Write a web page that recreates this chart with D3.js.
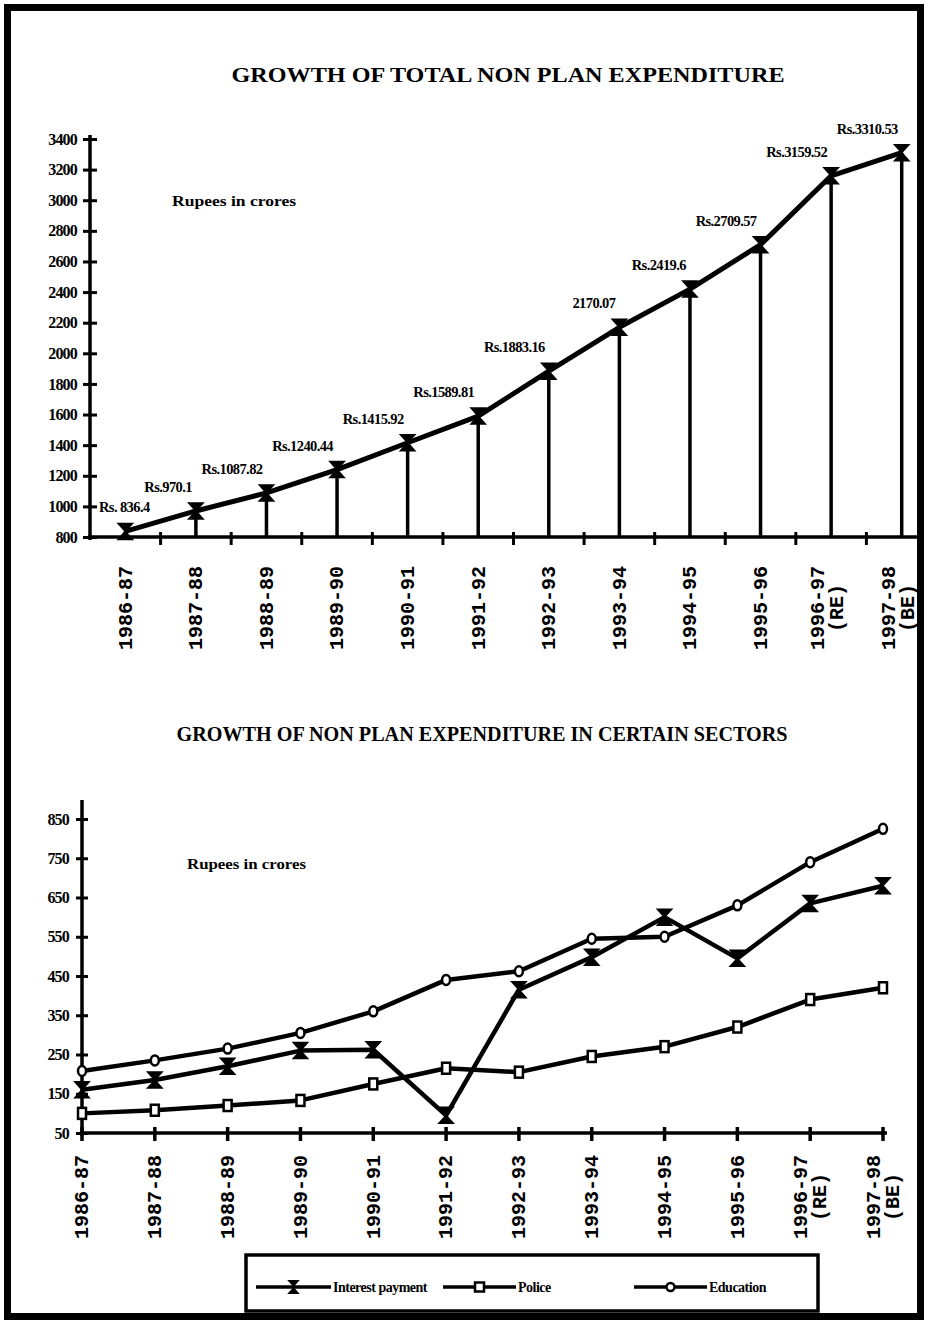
<!DOCTYPE html>
<html>
<head>
<meta charset="utf-8">
<script src="https://cdn.jsdelivr.net/npm/d3@7"></script>
<style>
html,body{margin:0;padding:0;background:#fff;}
svg{display:block;}
.serif{font-family:"Liberation Serif","Times New Roman",serif;font-weight:bold;}
.mono{font-family:"Liberation Mono","Courier New",monospace;font-weight:bold;}
</style>
</head>
<body>
<svg id="chart" width="929" height="1322"></svg>
<script>
// ---------- data ----------
const years = ["1986-87","1987-88","1988-89","1989-90","1990-91","1991-92","1992-93","1993-94","1994-95","1995-96","1996-97","1997-98"];
const yearNotes = ["","","","","","","","","","","(RE)","(BE)"];

const totalValues = [836.4, 970.1, 1087.82, 1240.44, 1415.92, 1589.81, 1883.16, 2170.07, 2419.6, 2709.57, 3159.52, 3310.53];
const totalLabels = ["Rs. 836.4","Rs.970.1","Rs.1087.82","Rs.1240.44","Rs.1415.92","Rs.1589.81","Rs.1883.16","2170.07","Rs.2419.6","Rs.2709.57","Rs.3159.52","Rs.3310.53"];
const topTicks = [800,1000,1200,1400,1600,1800,2000,2200,2400,2600,2800,3000,3200,3400];

const interestPayment = [160, 185, 220, 260, 262, 95, 415, 498, 600, 495, 635, 680];
const police          = [100, 108, 120, 133, 175, 215, 205, 245, 270, 320, 390, 420];
const education       = [208, 235, 265, 305, 360, 440, 462, 545, 550, 630, 740, 825];
const bottomTicks = [50,150,250,350,450,550,650,750,850];

const seriesNames = ["Interest payment","Police","Education"];

// ---------- setup ----------
const svg = d3.select("#chart");
const ink = "#000";

// frame
svg.append("rect").attr("x",7.5).attr("y",7.5).attr("width",913).attr("height",1309)
  .attr("fill","none").attr("stroke",ink).attr("stroke-width",7);

// hourglass marker
function hourglass(s){
  const w=s*0.45,h=s*0.5;
  return `M${-w},${-h}L${w},${-h}L0,0Z M${-w},${h}L${w},${h}L0,0Z`;
}

// ================= TOP CHART =================
const x1 = d3.scaleBand().domain(years).range([90, 937]);
const y1 = d3.scaleLinear().domain([800, 3400]).range([537, 139]);
const cx1 = d => x1(d) + x1.bandwidth()/2;

svg.append("text").attr("class","serif").attr("x",508).attr("y",82)
  .attr("text-anchor","middle").attr("font-size",22)
  .attr("textLength",553).attr("lengthAdjust","spacingAndGlyphs")
  .text("GROWTH  OF  TOTAL NON  PLAN  EXPENDITURE");

svg.append("text").attr("class","serif").attr("x",172).attr("y",206)
  .attr("font-size",14).attr("textLength",124).attr("lengthAdjust","spacingAndGlyphs")
  .text("Rupees in crores");

// y axis
const gy1 = svg.append("g").attr("transform","translate(90,0)")
  .call(d3.axisLeft(y1).tickValues(topTicks).tickSize(7).tickFormat(d3.format("d")));
gy1.select(".domain").remove();
gy1.selectAll(".tick line").attr("x1",-7).attr("x2",7).attr("stroke",ink).attr("stroke-width",3);
gy1.selectAll(".tick text").attr("class","serif").attr("font-size",16).attr("x",-13)
  .attr("fill",ink).attr("letter-spacing",-0.8);
svg.append("line").attr("x1",90).attr("x2",90).attr("y1",135).attr("y2",540)
  .attr("stroke",ink).attr("stroke-width",3.5);

// x axis line + ticks at band boundaries
svg.append("line").attr("x1",88).attr("x2",920).attr("y1",537).attr("y2",537)
  .attr("stroke",ink).attr("stroke-width",3.5);
svg.append("g").selectAll("line").data(years.slice(1))
  .join("line")
  .attr("x1",d=> x1(d))
  .attr("x2",d=> x1(d))
  .attr("y1",532).attr("y2",545).attr("stroke",ink).attr("stroke-width",3);

// spikes
svg.append("g").selectAll("line").data(years).join("line")
  .attr("x1",d=>cx1(d)).attr("x2",d=>cx1(d))
  .attr("y1",(d,i)=>y1(totalValues[i])).attr("y2",537)
  .attr("stroke",ink).attr("stroke-width",3.5);

// line
svg.append("path").datum(totalValues)
  .attr("d", d3.line().x((d,i)=>cx1(years[i])).y(d=>y1(d)))
  .attr("fill","none").attr("stroke",ink).attr("stroke-width",5).attr("stroke-linejoin","round");

// markers
svg.append("g").selectAll("path").data(totalValues).join("path")
  .attr("transform",(d,i)=>`translate(${cx1(years[i])},${y1(d)})`)
  .attr("d",hourglass(16)).attr("fill",ink).attr("stroke",ink).attr("stroke-width",1.5);

// value labels
svg.append("g").selectAll("text").data(totalValues).join("text")
  .attr("class","serif").attr("font-size",14.5).attr("letter-spacing",-0.6)
  .attr("text-anchor",(d,i)=> i===0 ? "start" : "end")
  .attr("x",(d,i)=> i===0 ? 99 : cx1(years[i]) - 4)
  .attr("y",(d,i)=> y1(d) - 19)
  .text((d,i)=>totalLabels[i]);

// x labels
function xLabels(cx, centerY, shift){
  const g = svg.append("g");
  years.forEach((yr,i)=>{
    const two = yearNotes[i] !== "";
    const t = g.append("text").attr("class","mono").attr("font-size",20)
      .attr("text-anchor","middle")
      .attr("transform",`translate(${cx(yr) + (two ? shift : 0)},${centerY}) rotate(-90)`);
    if(!two){
      t.append("tspan").attr("x",0).attr("dy","0.32em").text(yr);
    } else {
      t.append("tspan").attr("x",0).attr("dy","-0.15em").text(yr);
      t.append("tspan").attr("x",0).attr("dy","0.95em").text(yearNotes[i]);
    }
  });
}
xLabels(cx1, 608, -4);

// ================= BOTTOM CHART =================
const x2 = d3.scalePoint().domain(years).range([82, 883]);
const y2 = d3.scaleLinear().domain([50, 850]).range([1133, 819]);

svg.append("text").attr("class","serif").attr("x",482).attr("y",741)
  .attr("text-anchor","middle").attr("font-size",20)
  .attr("textLength",611).attr("lengthAdjust","spacingAndGlyphs")
  .text("GROWTH  OF  NON  PLAN  EXPENDITURE  IN  CERTAIN  SECTORS");

svg.append("text").attr("class","serif").attr("x",187).attr("y",869)
  .attr("font-size",14).attr("textLength",119).attr("lengthAdjust","spacingAndGlyphs")
  .text("Rupees in crores");

const gy2 = svg.append("g").attr("transform","translate(82,0)")
  .call(d3.axisLeft(y2).tickValues(bottomTicks).tickSize(7).tickFormat(d3.format("d")));
gy2.select(".domain").remove();
gy2.selectAll(".tick line").attr("x1",-6).attr("x2",6).attr("stroke",ink).attr("stroke-width",3);
gy2.selectAll(".tick text").attr("class","serif").attr("font-size",16).attr("x",-13)
  .attr("fill",ink).attr("letter-spacing",-0.8);
svg.append("line").attr("x1",82).attr("x2",82).attr("y1",800).attr("y2",1136)
  .attr("stroke",ink).attr("stroke-width",3.5);

svg.append("line").attr("x1",80).attr("x2",887).attr("y1",1133).attr("y2",1133)
  .attr("stroke",ink).attr("stroke-width",3.5);
svg.append("g").selectAll("line").data(years).join("line")
  .attr("x1",d=>x2(d)).attr("x2",d=>x2(d)).attr("y1",1127).attr("y2",1141)
  .attr("stroke",ink).attr("stroke-width",3.5);

const lineGen = d3.line().x((d,i)=>x2(years[i])).y(d=>y2(d));
[interestPayment, police, education].forEach(s=>{
  svg.append("path").datum(s).attr("d",lineGen)
    .attr("fill","none").attr("stroke",ink).attr("stroke-width",4.5).attr("stroke-linejoin","round");
});

// markers
svg.append("g").selectAll("path").data(interestPayment).join("path")
  .attr("transform",(d,i)=>`translate(${x2(years[i])},${y2(d)})`)
  .attr("d",hourglass(16)).attr("fill",ink).attr("stroke",ink).attr("stroke-width",1.5);
svg.append("g").selectAll("rect").data(police).join("rect")
  .attr("x",(d,i)=>x2(years[i])-4).attr("y",d=>y2(d)-5.5)
  .attr("width",8).attr("height",11).attr("fill","#fff").attr("stroke",ink).attr("stroke-width",2.5);
svg.append("g").selectAll("ellipse").data(education).join("ellipse")
  .attr("cx",(d,i)=>x2(years[i])).attr("cy",d=>y2(d))
  .attr("rx",4).attr("ry",5).attr("fill","#fff").attr("stroke",ink).attr("stroke-width",2.5);

xLabels(x2, 1197, 0);

// legend
const lg = svg.append("g");
lg.append("rect").attr("x",246).attr("y",1255).attr("width",572).attr("height",56)
  .attr("fill","#fff").attr("stroke",ink).attr("stroke-width",3.5);
const legendItems = [
  {name:seriesNames[0], x0:256, x1:331, kind:"hg"},
  {name:seriesNames[1], x0:443, x1:516, kind:"sq"},
  {name:seriesNames[2], x0:634, x1:707, kind:"ci"}
];
const ly = 1287;
legendItems.forEach(it=>{
  lg.append("line").attr("x1",it.x0).attr("x2",it.x1).attr("y1",ly).attr("y2",ly)
    .attr("stroke",ink).attr("stroke-width",3.5);
  const mx = (it.x0+it.x1)/2;
  if(it.kind==="hg"){
    lg.append("path").attr("transform",`translate(${mx},${ly})`).attr("d",hourglass(14)).attr("fill",ink);
  } else if(it.kind==="sq"){
    lg.append("rect").attr("x",mx-4.5).attr("y",ly-4.5).attr("width",9).attr("height",9)
      .attr("fill","#fff").attr("stroke",ink).attr("stroke-width",2.5);
  } else {
    lg.append("circle").attr("cx",mx).attr("cy",ly).attr("r",4)
      .attr("fill","#fff").attr("stroke",ink).attr("stroke-width",2.5);
  }
  lg.append("text").attr("class","serif").attr("font-size",14).attr("letter-spacing",-0.5)
    .attr("x",it.x1+2).attr("y",ly+4.5).text(it.name);
});
</script>
</body>
</html>
